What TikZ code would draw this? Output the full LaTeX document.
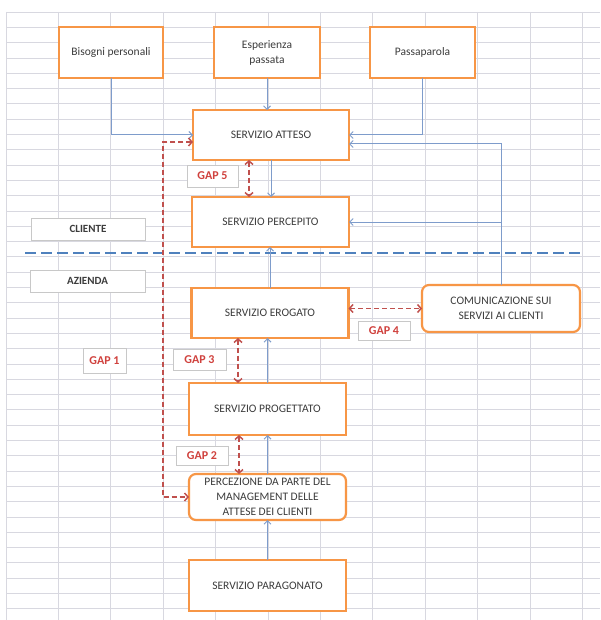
\documentclass[tikz,border=0pt]{standalone}
\usepackage{fontspec}
\setmainfont{Carlito}
\usetikzlibrary{arrows.meta,calc}
\definecolor{boxor}{HTML}{F79646}
\definecolor{txt}{HTML}{3C3C3C}
\definecolor{labgray}{HTML}{C8C8C8}
\definecolor{gapred}{HTML}{D0413D}
\definecolor{darkred}{HTML}{C0504D}
\definecolor{conblue}{HTML}{7E9CCB}
\definecolor{sepblue}{HTML}{4F81BD}
\definecolor{gridc}{HTML}{D8D8E0}
\begin{document}
\begin{tikzpicture}[x=1pt,y=-1pt,
  box/.style={draw=boxor, line width=2.2pt, fill=white, text=txt,
    font=\fontsize{11.5}{15}\selectfont, align=center, inner sep=2pt, outer sep=0pt},
  rbox/.style={box, rounded corners=7pt},
  lab/.style={draw=labgray, line width=0.7pt, fill=white, text=txt,
    font=\fontsize{11}{13}\selectfont\bfseries, inner sep=1pt, outer sep=0pt},
  gaplab/.style={lab, text=gapred, font=\fontsize{12}{14}\selectfont\bfseries},
  conn/.style={draw=conblue, line width=1pt, -{Straight Barb[length=3.5pt,width=7pt]}},
  gapar/.style={draw=darkred, line width=1.5pt, dash pattern=on 5pt off 3pt,
    {Straight Barb[length=3.5pt,width=8pt]}-{Straight Barb[length=3.5pt,width=8pt]}},
  sepline/.style={draw=sepblue, line width=2.5pt, dash pattern=on 11pt off 5pt},
  gridline/.style={draw=gridc, line width=0.7pt}
]
\useasboundingbox (0,0) rectangle (600,620);
\fill[white] (0,0) rectangle (600,620);
% spreadsheet grid
\foreach \i in {0,...,11} \draw[gridline] ({6+52.4*\i},12) -- ({6+52.4*\i},620);
\foreach \j in {0,...,39} \draw[gridline] (6,{12+15.3*\j}) -- (600,{12+15.3*\j});

% boxes
\node[box, minimum width=104pt, minimum height=51pt] (bis) at (111,52.5) {Bisogni personali};
\node[box, minimum width=106pt, minimum height=51pt] (esp) at (267,52.5) {Esperienza\\passata};
\node[box, minimum width=105pt, minimum height=51pt] (pas) at (422.5,52.5) {Passaparola};
\node[box, minimum width=156pt, minimum height=50pt] (att) at (271,135) {SERVIZIO ATTESO};
\node[box, minimum width=157pt, minimum height=50pt] (per) at (270.5,222) {SERVIZIO PERCEPITO};
\node[box, minimum width=157pt, minimum height=50pt] (ero) at (270,313) {SERVIZIO EROGATO};
\node[rbox, minimum width=158pt, minimum height=47pt] (com) at (501,308.5) {COMUNICAZIONE SUI\\SERVIZI AI CLIENTI};
\node[box, minimum width=157pt, minimum height=52pt] (pro) at (267.5,409) {SERVIZIO PROGETTATO};
\node[rbox, minimum width=157pt, minimum height=46pt] (pcz) at (267.5,497) {PERCEZIONE DA PARTE DEL\\MANAGEMENT DELLE\\ATTESE DEI CLIENTI};
\node[box, minimum width=157pt, minimum height=51pt] (par) at (267.5,585.5) {SERVIZIO PARAGONATO};

% side labels
\node[lab, minimum width=114pt, minimum height=22pt] (cli) at (88,229) {CLIENTE};
\node[lab, minimum width=115pt, minimum height=22pt] (azi) at (87.5,281) {AZIENDA};
\node[gaplab, minimum width=51pt, minimum height=22pt] (g5) at (212.5,176) {GAP 5};
\node[gaplab, minimum width=52pt, minimum height=19pt] (g4) at (384,331) {GAP 4};
\node[gaplab, minimum width=43pt, minimum height=25pt] (g1) at (104.5,361) {GAP 1};
\node[gaplab, minimum width=53pt, minimum height=21pt] (g3) at (199.5,360) {GAP 3};
\node[gaplab, minimum width=52pt, minimum height=19pt] (g2) at (202,456) {GAP 2};

% separator
\coordinate (sl) at (25,253);
\coordinate (sr) at (580,253);
\draw[sepline] (sl) -- (sr);

% blue connectors
\draw[conn] (bis.south) |- (att.west);
\draw[conn] (esp.south) -- (esp.south |- att.north);
\draw[conn] (pas.south) |- (att.east);
\coordinate (attr) at ($(att.east)+(0,9)$);
\coordinate (cj) at (com.north |- per.east);
\draw[conn] (com.north) |- (attr);
\draw[conn] (cj) -- (per.east);
\draw[conn] (att.south) -- (att.south |- per.north);
\draw[conn] (ero.north) -- (ero.north |- per.south);
\draw[conn] (pro.north) -- (pro.north |- ero.south);
\draw[conn] (pcz.north) -- (pcz.north |- pro.south);
\draw[conn] (par.north) -- (par.north |- pcz.south);

% red gap arrows
\coordinate (g5x) at (249,0);
\draw[gapar] (g5x |- att.south) -- (g5x |- per.north);
\draw[gapar] (ero.east |- com.west) -- (com.west);
\coordinate (g3x) at (238,0);
\draw[gapar] (g3x |- ero.south) -- (g3x |- pro.north);
\coordinate (g2x) at (239,0);
\draw[gapar] (g2x |- pro.south) -- (g2x |- pcz.north);
\coordinate (g1a) at ($(att.west)+(0,7)$);
\coordinate (g1x) at (163,0);
\draw[gapar] (g1a) -- (g1a -| g1x) -- (g1x |- pcz.west) -- (pcz.west);
\end{tikzpicture}
\end{document}
